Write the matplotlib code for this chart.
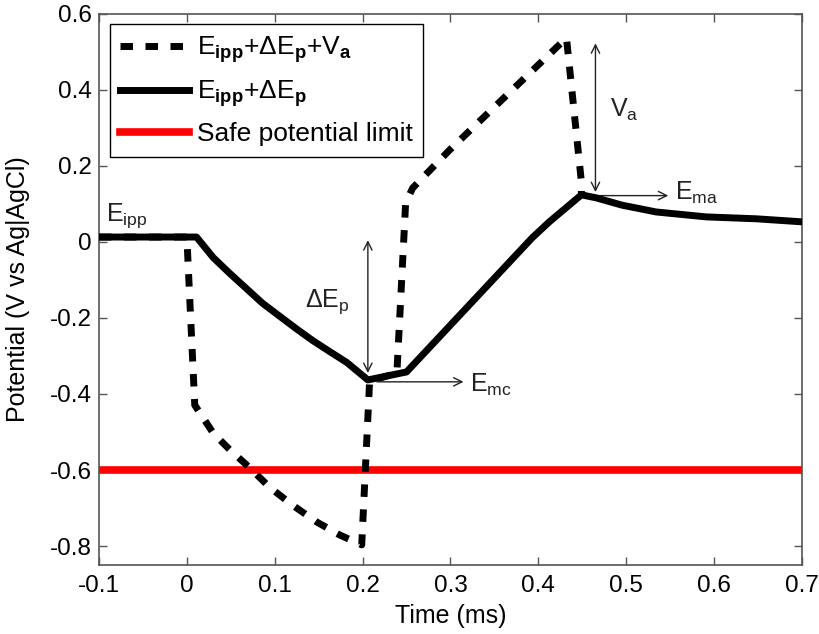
import matplotlib
matplotlib.use('Agg')
import matplotlib.pyplot as plt
import numpy as np

plt.rcParams['font.family'] = ['Liberation Sans', 'DejaVu Sans']
plt.rcParams['mathtext.fontset'] = 'custom'
plt.rcParams['mathtext.rm'] = 'Liberation Sans'
plt.rcParams['mathtext.it'] = 'Liberation Sans'
plt.rcParams['mathtext.bf'] = 'Liberation Sans:bold'

# --- data (time in ms, potential in V) ---
t_total = [-0.1, 0.0, 0.009, 0.03, 0.049, 0.072, 0.094, 0.12, 0.148, 0.174,
           0.199, 0.208, 0.239, 0.249, 0.257, 0.299, 0.432, 0.449, 0.449]
v_total = [0.013, 0.013, -0.429, -0.503, -0.547, -0.595, -0.645, -0.692, -0.737,
           -0.771, -0.797, -0.366, -0.345, 0.103, 0.142, 0.242, 0.537, 0.158, 0.124]

t_base = [-0.1, 0.011, 0.03, 0.049, 0.068, 0.086, 0.106, 0.125, 0.143, 0.163,
          0.182, 0.206, 0.25, 0.393, 0.4125, 0.449, 0.466, 0.495, 0.534,
          0.591, 0.648, 0.7]
v_base = [0.013, 0.013, -0.041, -0.083, -0.123, -0.161, -0.196, -0.229, -0.259,
          -0.289, -0.317, -0.363, -0.342, 0.011, 0.053, 0.124, 0.116, 0.097,
          0.079, 0.066, 0.061, 0.053]

safe_limit = -0.6

lab_total = r'E$_{\mathbf{ipp}}$+ΔE$_{\mathbf{p}}$+V$_{\mathbf{a}}$'
lab_base = r'E$_{\mathbf{ipp}}$+ΔE$_{\mathbf{p}}$'
lab_safe = 'Safe potential limit'

fig = plt.figure(figsize=(8.2, 6.34), dpi=100)
ax = fig.add_axes([0.1207, 0.1088, 0.8573, 0.8692])

ax.axhline(safe_limit, color='#ff0000', lw=5.5, label=lab_safe, zorder=2)
ax.plot(t_total, v_total, color='black', lw=5, dashes=(1.8, 1.8),
        label=lab_total, zorder=3)
ax.plot(t_base, v_base, color='black', lw=5, label=lab_base, zorder=4)

# --- annotations ---
txt = dict(fontsize=18, color='#222222')
arr2 = dict(arrowstyle='<->', color='#222222', lw=1.0, mutation_scale=15)
arr1 = dict(arrowstyle='->', color='#222222', lw=1.0, mutation_scale=15)

ax.text(-0.092, 0.068, r'E$_{\mathrm{ipp}}$', va='center', ha='left', **txt)

ax.annotate('', xy=(0.206, -0.352), xytext=(0.206, 0.012), arrowprops=arr2)
ax.text(0.135, -0.158, r'ΔE$_{\mathrm{p}}$', va='center', ha='left', **txt)

ax.annotate('', xy=(0.318, -0.368), xytext=(0.213, -0.368), arrowprops=arr1)
ax.text(0.322, -0.376, r'E$_{\mathrm{mc}}$', va='center', ha='left', **txt)

ax.annotate('', xy=(0.465, 0.124), xytext=(0.465, 0.53), arrowprops=arr2)
ax.text(0.482, 0.347, r'V$_{\mathrm{a}}$', va='center', ha='left', **txt)

ax.annotate('', xy=(0.551, 0.122), xytext=(0.462, 0.122), arrowprops=arr1)
ax.text(0.555, 0.129, r'E$_{\mathrm{ma}}$', va='center', ha='left', **txt)

# --- axes styling ---
ax.set_xlim(-0.1, 0.7)
ax.set_ylim(-0.85, 0.6)
ax.set_xticks(np.arange(-0.1, 0.71, 0.1))
ax.set_xticklabels(['-0.1', '0', '0.1', '0.2', '0.3', '0.4', '0.5', '0.6', '0.7'])
ax.set_yticks([-0.8, -0.6, -0.4, -0.2, 0, 0.2, 0.4, 0.6])
ax.set_yticklabels(['-0.8', '-0.6', '-0.4', '-0.2', '0', '0.2', '0.4', '0.6'])
ax.tick_params(direction='in', length=6, width=1, color='#555555',
               labelsize=17.5, top=True, right=True)
ax.tick_params(axis='x', pad=7)
ax.tick_params(axis='y', pad=5)
for s in ax.spines.values():
    s.set_color('#555555')
    s.set_linewidth(1.2)

ax.set_xlabel('Time (ms)', fontsize=18, labelpad=5)
ax.set_ylabel('Potential (V vs Ag|AgCl)', fontsize=18)
ax.yaxis.set_label_coords(-0.098, 0.5)

handles, labels = ax.get_legend_handles_labels()
order = [1, 2, 0]
leg = ax.legend([handles[i] for i in order], [labels[i] for i in order],
                loc='upper left', bbox_to_anchor=(0.015, 0.982),
                fontsize=19, handlelength=2.6, handletextpad=0.3,
                labelspacing=0.5, borderpad=0.4, borderaxespad=0.0,
                fancybox=False, framealpha=1, edgecolor='black')
leg.get_frame().set_linewidth(1.0)

fig.savefig('out.png', dpi=100)
